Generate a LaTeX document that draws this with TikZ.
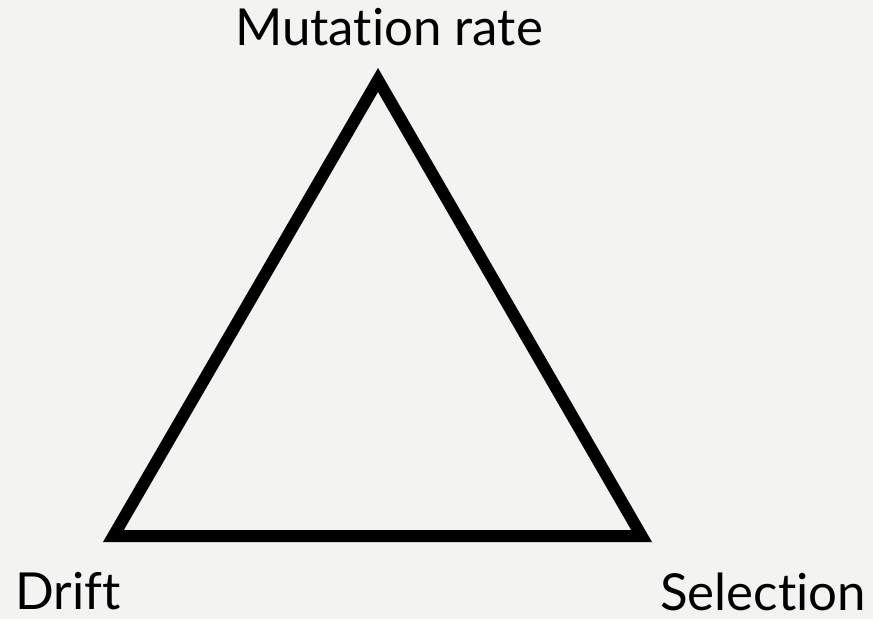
\documentclass[tikz,border=0pt]{standalone}
\usepackage{fontspec}
\setmainfont{Lato}[RawFeature={-liga;-dlig;-clig}]
\usepackage{tikz}
\usetikzlibrary{positioning,calc}
\definecolor{pagebg}{HTML}{F3F3F2}

\begin{document}
\begin{tikzpicture}[
  x=1pt,y=-1pt,
  lbl/.style={font=\fontsize{51}{61}\selectfont,inner sep=0pt,text depth=0pt,text=black},
  edge/.style={line width=12pt,line join=miter,draw=black},
]
\fill[pagebg] (0,0) rectangle (873,619);
\useasboundingbox (0,0) rectangle (873,619);

\coordinate (mut) at (378,80);
\coordinate (drift) at (113.4,536);
\coordinate (sel) at (641.6,536);

\draw[edge] (mut) -- (drift) -- (sel) -- cycle;

\node[lbl,anchor=base] (mutlbl) at (389,45) {Mutation rate};
\node[lbl,anchor=base west] (driftlbl) at (15,609) {Drift};
\node[lbl,anchor=base west] (sellbl) at (660,610) {Selection};
\end{tikzpicture}
\end{document}
